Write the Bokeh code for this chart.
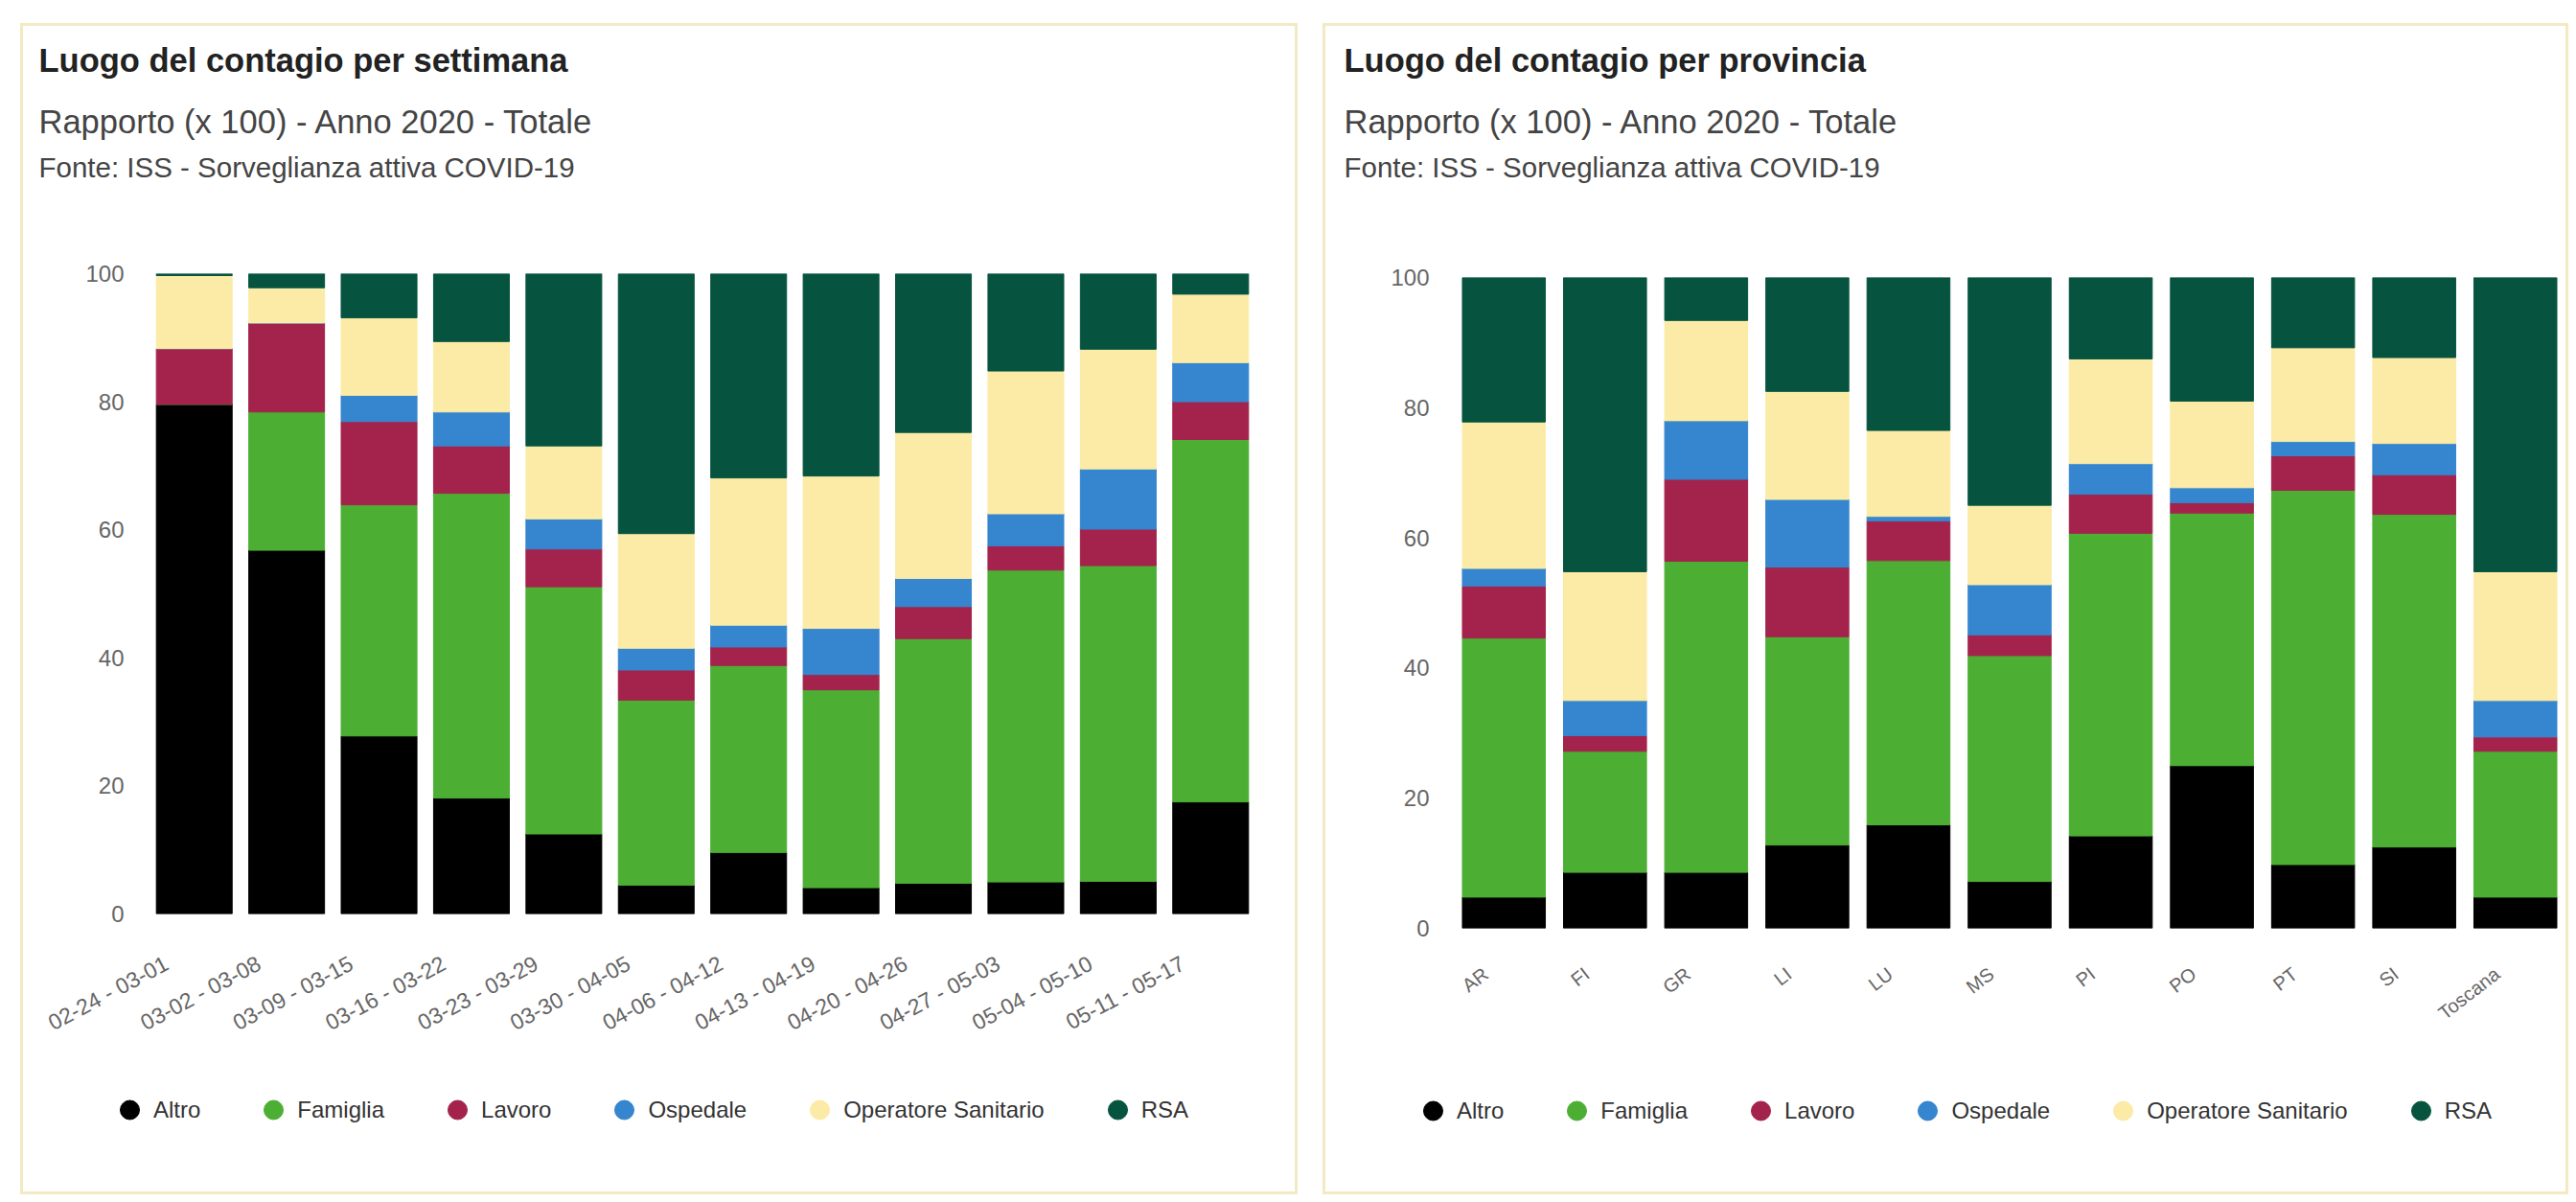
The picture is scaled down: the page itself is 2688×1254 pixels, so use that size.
import math
from bokeh.plotting import figure
from bokeh.models import (Title, Legend, LegendItem, FixedTicker, ColumnDataSource,
                          Range1d)
from bokeh.layouts import row, column
from bokeh.embed import file_html
from bokeh.resources import INLINE

# ---------------- data ----------------
series_names = ["Altro", "Famiglia", "Lavoro", "Ospedale", "Operatore Sanitario", "RSA"]
series_colors = ["#000000", "#4caf34", "#a3234c", "#3585cf", "#fbeba6", "#06543f"]
y_ticks = [0, 20, 40, 60, 80, 100]

weeks = ["02-24 - 03-01", "03-02 - 03-08", "03-09 - 03-15", "03-16 - 03-22",
         "03-23 - 03-29", "03-30 - 04-05", "04-06 - 04-12", "04-13 - 04-19",
         "04-20 - 04-26", "04-27 - 05-03", "05-04 - 05-10", "05-11 - 05-17"]
week_altro = [79.6, 56.8, 27.8, 18.1, 12.5, 4.5, 9.6, 4.1, 4.8, 5.0, 5.1, 17.5]
week_famiglia = [0.0, 21.6, 36.1, 47.6, 38.6, 28.9, 29.2, 30.9, 38.2, 48.7, 49.3, 56.6]
week_lavoro = [8.7, 13.9, 13.0, 7.4, 5.9, 4.7, 2.9, 2.4, 5.0, 3.8, 5.7, 5.9]
week_ospedale = [0.0, 0.0, 4.1, 5.3, 4.7, 3.4, 3.4, 7.2, 4.4, 5.0, 9.4, 6.1]
week_operatore = [11.4, 5.5, 12.1, 11.0, 11.4, 17.9, 23.0, 23.8, 22.8, 22.3, 18.7, 10.7]
week_rsa = [0.3, 2.2, 6.9, 10.6, 26.9, 40.6, 31.9, 31.6, 24.8, 15.2, 11.8, 3.2]

provinces = ["AR", "FI", "GR", "LI", "LU", "MS", "PI", "PO", "PT", "SI", "Toscana"]
prov_altro = [4.8, 8.6, 8.6, 12.8, 15.9, 7.2, 14.2, 25.0, 9.8, 12.5, 4.8]
prov_famiglia = [39.8, 18.6, 47.8, 32.0, 40.6, 34.7, 46.5, 38.8, 57.5, 51.1, 22.4]
prov_lavoro = [8.0, 2.4, 12.6, 10.7, 6.1, 3.2, 6.0, 1.6, 5.3, 6.1, 2.2]
prov_ospedale = [2.7, 5.4, 9.0, 10.4, 0.7, 7.7, 4.7, 2.3, 2.2, 4.8, 5.6]
prov_operatore = [22.5, 19.8, 15.4, 16.6, 13.2, 12.2, 16.1, 13.3, 14.4, 13.2, 19.8]
prov_rsa = [22.2, 45.2, 6.6, 17.5, 23.5, 35.0, 12.5, 19.0, 10.8, 12.3, 45.2]

title_left = "Luogo del contagio per settimana"
title_right = "Luogo del contagio per provincia"
subtitle_text = "Rapporto (x 100) - Anno 2020 - Totale"
source_text = "Fonte: ISS - Sorveglianza attiva COVID-19"

FONT = "Liberation Sans"
keys = ["altro", "famiglia", "lavoro", "ospedale", "operatore", "rsa"]


def make_panel(cats, cols, title, width, h_chart, h_leg, mbl, mbr, spacer, mbb,
               angle, label_font, label_shift, label_standoff, legend_loc, margin):
    n = len(cats)
    data = {"cat": cats, "xpos": [i + 0.5 for i in range(n)]}
    for k, c in zip(keys, cols):
        data[k] = c
    src = ColumnDataSource(data=data)

    p = figure(x_range=Range1d(0, n), y_range=Range1d(0, 100),
               width=width, height=h_chart, output_backend="svg",
               toolbar_location=None,
               min_border_left=mbl, min_border_right=mbr,
               min_border_top=0, min_border_bottom=mbb,
               background_fill_color="white", border_fill_color="white",
               outline_line_color=None)

    p.vbar_stack(keys, x="xpos", width=0.82, color=series_colors, source=src)

    # titles (added from the frame outwards)
    p.add_layout(Title(text=" ", text_font_size="10px", standoff=spacer), "above")
    p.add_layout(Title(text=source_text, align="left", offset=-114, standoff=0,
                       text_font=FONT, text_font_size="29.5px", text_font_style="normal",
                       text_color="#444444"), "above")
    p.add_layout(Title(text=subtitle_text, align="left", offset=-114, standoff=20,
                       text_font=FONT, text_font_size="34.5px", text_font_style="normal",
                       text_color="#444444"), "above")
    p.add_layout(Title(text=title, align="left", offset=-114, standoff=28,
                       text_font=FONT, text_font_size="34.5px", text_font_style="bold",
                       text_color="#222222"), "above")

    p.xgrid.grid_line_color = None
    p.ygrid.grid_line_color = None

    p.yaxis.ticker = FixedTicker(ticks=y_ticks)
    p.yaxis.axis_line_color = None
    p.yaxis.major_tick_line_color = None
    p.yaxis.minor_tick_line_color = None
    p.yaxis.major_tick_out = 0
    p.yaxis.major_tick_in = 0
    p.yaxis.major_label_standoff = 25
    p.yaxis.major_label_text_font = FONT
    p.yaxis.major_label_text_font_size = "24px"
    p.yaxis.major_label_text_color = "#666666"

    # category labels: placed slightly left of each bar centre, as in the original
    tick_pos = [i + 0.5 - label_shift for i in range(n)]
    xax = p.xaxis[0]
    xax.ticker = FixedTicker(ticks=tick_pos)
    xax.major_label_overrides = {t: c for t, c in zip(tick_pos, cats)}
    xax.axis_line_color = None
    xax.major_tick_line_color = None
    xax.minor_tick_line_color = None
    xax.major_tick_out = 0
    xax.major_tick_in = 0
    xax.major_label_standoff = label_standoff
    xax.major_label_orientation = angle
    xax.major_label_text_font = FONT
    xax.major_label_text_font_size = label_font
    xax.major_label_text_color = "#666666"

    # legend strip below the chart (its placeholder points lie outside the view)
    lf = figure(x_range=Range1d(0, 1), y_range=Range1d(0, 1), width=width, height=h_leg,
                output_backend="svg", toolbar_location=None,
                x_axis_location=None, y_axis_location=None, min_border=0,
                background_fill_color="white", border_fill_color="white",
                outline_line_color=None)
    lf.grid.grid_line_color = None
    items = []
    for name, col in zip(series_names, series_colors):
        r = lf.scatter(x=[-5], y=[-5], marker="circle", size=20,
                       fill_color=col, line_color=col)
        items.append(LegendItem(label=name, renderers=[r]))
    leg = Legend(items=items, location=legend_loc, orientation="horizontal",
                 glyph_width=50, glyph_height=55, label_standoff=0, spacing=51,
                 padding=0, margin=0, border_line_color=None,
                 background_fill_alpha=0, label_text_font=FONT,
                 label_text_font_size="24px", label_text_color="#333333")
    lf.add_layout(leg, "center")

    return column(p, row(lf), spacing=0, margin=margin,
                  styles={"border": "3px solid #f3e9c3", "background-color": "white"})


left = make_panel(weeks, [week_altro, week_famiglia, week_lavoro, week_ospedale,
                          week_operatore, week_rsa],
                  title_left, width=1327, h_chart=1090, h_leg=126, mbl=130, mbr=40,
                  spacer=82, mbb=164, angle=0.49, label_font="23px", label_shift=0.3,
                  label_standoff=50, legend_loc=(86, 58), margin=(24, 0, 0, 21))
right = make_panel(provinces, [prov_altro, prov_famiglia, prov_lavoro, prov_ospedale,
                               prov_operatore, prov_rsa],
                   title_right, width=1294, h_chart=1090, h_leg=126, mbl=133, mbr=0,
                   spacer=86, mbb=149, angle=0.66, label_font="20px", label_shift=0.18,
                   label_standoff=45, legend_loc=(87, 57), margin=(24, 0, 0, 26))

layout = row(left, right)
open("out.html", "w").write(file_html(layout, INLINE))
